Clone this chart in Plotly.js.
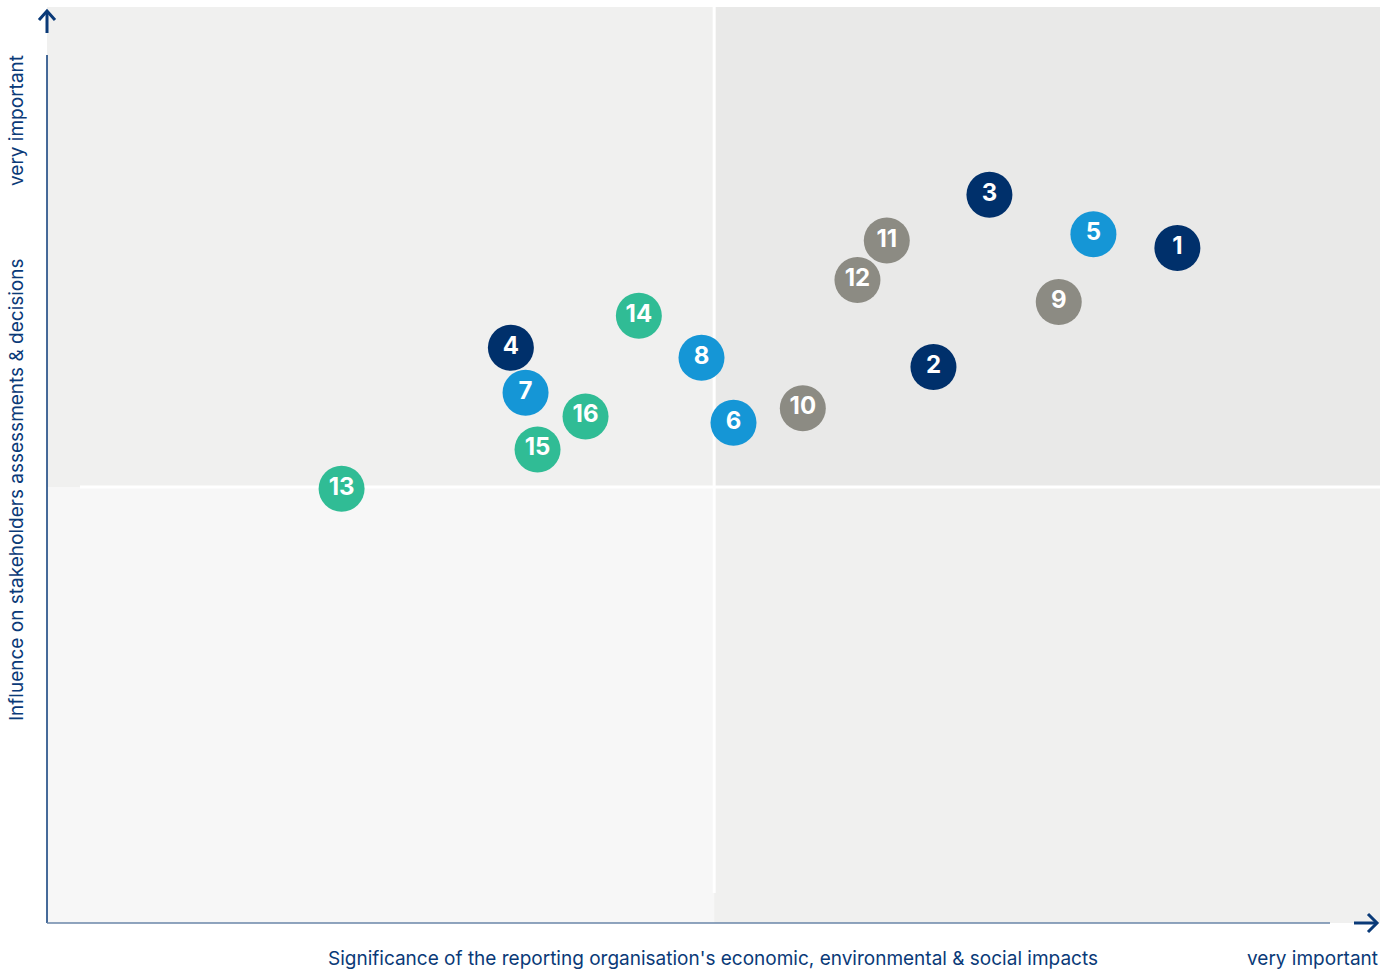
<!DOCTYPE html>
<html>
<head>
<meta charset="utf-8">
<script src="https://cdn.plot.ly/plotly-3.0.1.min.js"></script>
<style>html,body{margin:0;padding:0;background:#fff;}#chart{width:1395px;height:970px;}</style>
</head>
<body>
<div id="chart"></div>
<script>
// Topic numbers
const labels = ["1","2","3","4","5","6","7","8","9","10","11","12","13","14","15","16"];
// Significance of impacts (x, 0-100)
const significance = [84.8, 66.5, 70.7, 34.8, 78.5, 51.5, 35.9, 49.1, 75.9, 56.7, 63.0, 60.8, 22.1, 44.4, 36.8, 40.4];
// Influence on stakeholders (y, 0-100)
const influence = [73.7, 60.7, 79.5, 62.8, 75.2, 54.6, 57.9, 61.7, 67.8, 56.2, 74.5, 70.2, 47.4, 66.3, 51.7, 55.3];
// Group of each topic
const groups = ["navy","navy","navy","navy","blue","blue","blue","blue","gray","gray","gray","gray","green","green","green","green"];
const groupColors = {navy:"#00306b", blue:"#1596d6", gray:"#8c8b83", green:"#30bc95"};

const xTitle = "Significance of the reporting organisation's economic, environmental & social impacts";
const yTitle = "Influence on stakeholders assessments & decisions";
const highLabel = "very important";

// plot area in pixels
const L = 47, R = 1380, T = 7, B = 923;
const px = v => (v - L) / (R - L);
const py = v => (B - v) / (B - T);
const dx = v => (v - L) / (R - L) * 100;
const dy = v => (B - v) / (B - T) * 100;
const xDiv = 50.05, yDiv = 47.6;

const navy = "#0a3a78";
const font = "Inter, Roboto, 'Liberation Sans', sans-serif";

const trace = {
  type: "scatter",
  mode: "markers+text",
  x: significance,
  y: influence,
  text: labels,
  textposition: "middle center",
  textfont: {family: font, size: 24, color: "#ffffff", weight: 700},
  marker: {size: 46, color: groups.map(g => groupColors[g]), line: {width: 0}},
  hoverinfo: "skip",
  cliponaxis: false
};

const shapes = [
  {type:"rect", xref:"x", yref:"y", x0:0, x1:xDiv, y0:yDiv, y1:100, fillcolor:"#f0f0ef", line:{width:0}, layer:"below"},
  {type:"rect", xref:"x", yref:"y", x0:xDiv, x1:100, y0:yDiv, y1:100, fillcolor:"#e9e9e8", line:{width:0}, layer:"below"},
  {type:"rect", xref:"x", yref:"y", x0:0, x1:xDiv, y0:0, y1:yDiv, fillcolor:"#f7f7f7", line:{width:0}, layer:"below"},
  {type:"rect", xref:"x", yref:"y", x0:xDiv, x1:100, y0:0, y1:yDiv, fillcolor:"#f0f0ef", line:{width:0}, layer:"below"},
  // white separators
  {type:"line", xref:"x", yref:"y", x0:dx(80), x1:100, y0:yDiv, y1:yDiv, line:{color:"#ffffff", width:3}, layer:"below"},
  {type:"line", xref:"x", yref:"y", x0:xDiv, x1:xDiv, y0:dy(893), y1:100, line:{color:"#ffffff", width:3}, layer:"below"},
  // axis lines
  {type:"line", xref:"paper", yref:"paper", x0:px(47), x1:px(47), y0:py(923), y1:py(55), line:{color:navy, width:1.5}},
  {type:"line", xref:"paper", yref:"paper", x0:px(47), x1:px(1330), y0:py(923), y1:py(923), line:{color:"#6a86a8", width:1.5}},
  // arrows
  {type:"path", xref:"paper", yref:"paper", path:`M ${px(47)} ${py(33)} L ${px(47)} ${py(11)}`, line:{color:navy, width:3}},
  {type:"path", xref:"paper", yref:"paper", path:`M ${px(39)} ${py(20)} L ${px(47)} ${py(11)} L ${px(55)} ${py(20)}`, line:{color:navy, width:3}},
  {type:"path", xref:"paper", yref:"paper", path:`M ${px(1354)} ${py(923)} L ${px(1377)} ${py(923)}`, line:{color:navy, width:3}},
  {type:"path", xref:"paper", yref:"paper", path:`M ${px(1368)} ${py(914)} L ${px(1377)} ${py(923)} L ${px(1368)} ${py(932)}`, line:{color:navy, width:3}}
];

const annotations = [
  {xref:"paper", yref:"paper", x:px(713), y:py(958), text:xTitle, showarrow:false, xanchor:"center", yanchor:"middle", font:{family:font, size:19, color:navy}},
  {xref:"paper", yref:"paper", x:px(1380), y:py(958), text:highLabel, showarrow:false, xanchor:"right", yanchor:"middle", font:{family:font, size:19, color:navy}},
  {xref:"paper", yref:"paper", x:px(16), y:py(490), text:yTitle, showarrow:false, textangle:-90, xanchor:"center", yanchor:"middle", font:{family:font, size:19, color:navy}},
  {xref:"paper", yref:"paper", x:px(16), y:py(121), text:highLabel, showarrow:false, textangle:-90, xanchor:"center", yanchor:"middle", font:{family:font, size:19, color:navy}}
];

const layout = {
  width: 1395, height: 970,
  margin: {l: L, r: 1395 - R, t: T, b: 970 - B, pad: 0},
  paper_bgcolor: "#ffffff",
  plot_bgcolor: "#ffffff",
  showlegend: false,
  xaxis: {range:[0,100], visible:false, fixedrange:true},
  yaxis: {range:[0,100], visible:false, fixedrange:true},
  shapes: shapes,
  annotations: annotations
};

Plotly.newPlot("chart", [trace], layout, {displayModeBar:false, staticPlot:true});
</script>
</body>
</html>
